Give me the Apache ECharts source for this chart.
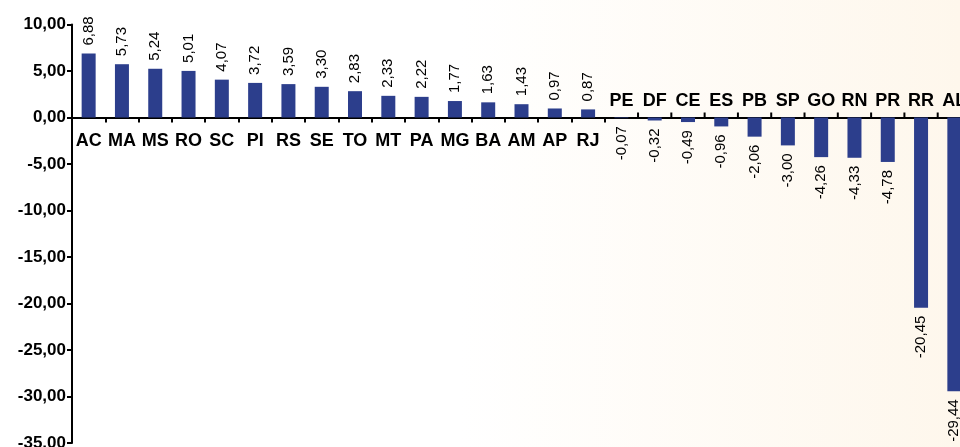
<!DOCTYPE html>
<html>
<head>
<meta charset="utf-8">
<script src="https://cdn.jsdelivr.net/npm/echarts@6/dist/echarts.min.js"></script>
<style>
html,body{margin:0;padding:0;}
body{width:960px;height:447px;background:linear-gradient(to right,#ffffff 0%,#ffffff 48%,#fef7ec 100%);overflow:hidden;}
#c{width:960px;height:447px;}
</style>
</head>
<body>
<div id="c"></div>
<script>
var categories = ['AC','MA','MS','RO','SC','PI','RS','SE','TO','MT','PA','MG','BA','AM','AP','RJ','PE','DF','CE','ES','PB','SP','GO','RN','PR','RR','AL'];
var values = [6.88,5.73,5.24,5.01,4.07,3.72,3.59,3.30,2.83,2.33,2.22,1.77,1.63,1.43,0.97,0.87,-0.07,-0.32,-0.49,-0.96,-2.06,-3.00,-4.26,-4.33,-4.78,-20.45,-29.44];
var yMin = -35, yMax = 10, yStep = 5;

function fmt(v){ return v.toFixed(2).replace('.', ','); }
var firstNeg = values.findIndex(function(v){ return v < 0; });

var barData = values.map(function(v){
  return {
    value: v,
    label: v >= 0
      ? {position:'top', rotate:90, align:'left', verticalAlign:'middle', distance:8}
      : {position:'bottom', rotate:90, align:'right', verticalAlign:'middle', distance:8}
  };
});

// category names placed at the zero line, opposite to the bar
var catData = categories.map(function(c, i){
  return {
    value:[c, 0],
    label: values[i] >= 0 ? {position:'bottom', distance:15} : {position:'top', distance:7}
  };
});

// upward ticks on the zero line for the negative categories (left boundary of each)
var upTickData = categories.map(function(c){ return [c, 0]; }).filter(function(d, i){ return i > firstNeg; });

var chart = echarts.init(document.getElementById('c'), null, {renderer:'canvas'});
chart.setOption({
  animation:false,
  backgroundColor:'transparent',
  grid:{left:72, top:24.5, width:899, height:418.5, containLabel:false, outerBoundsMode:'none'},
  xAxis:{
    type:'category', data:categories, position:'bottom',
    axisLine:{show:true, onZero:true, lineStyle:{color:'#000', width:2}},
    axisTick:{show:true, alignWithLabel:false, length:5, lineStyle:{color:'#000', width:2},
      interval:function(i){ return i <= firstNeg; }},
    axisLabel:{show:false},
    splitLine:{show:false}
  },
  yAxis:{
    type:'value', min:yMin, max:yMax, interval:yStep,
    axisLine:{show:true, lineStyle:{color:'#000', width:2}},
    axisTick:{show:true, length:5, lineStyle:{color:'#000', width:2}},
    axisLabel:{formatter:function(v){ return fmt(v); }, fontFamily:'"Liberation Sans",Arial,sans-serif', fontWeight:'bold', fontSize:17, color:'#000', margin:6},
    splitLine:{show:false}
  },
  series:[{
    type:'bar', data:barData, barWidth:14,
    itemStyle:{color:'#2c3e8c'},
    label:{show:true, formatter:function(p){ return fmt(p.value); },
      fontFamily:'"Liberation Sans",Arial,sans-serif', fontSize:15, color:'#000'}
  },{
    type:'scatter', data:catData, symbolSize:0, silent:true, z:5,
    itemStyle:{color:'#000', opacity:1},
    label:{show:true, formatter:function(p){ return p.value[0]; }, opacity:1,
      fontFamily:'"Liberation Sans Narrow","Liberation Sans",Arial,sans-serif', fontWeight:'bold', fontSize:18, color:'#000'}
  },{
    type:'custom', data:upTickData, silent:true, z:6,
    renderItem:function(params, api){
      var p = api.coord([api.value(0), 0]);
      var w = api.size([1, 0])[0];
      var x = p[0] - w / 2;
      return {type:'line', shape:{x1:x, y1:p[1], x2:x, y2:p[1] - 5}, style:{stroke:'#000', lineWidth:2}};
    }
  }]
});
</script>
</body>
</html>
